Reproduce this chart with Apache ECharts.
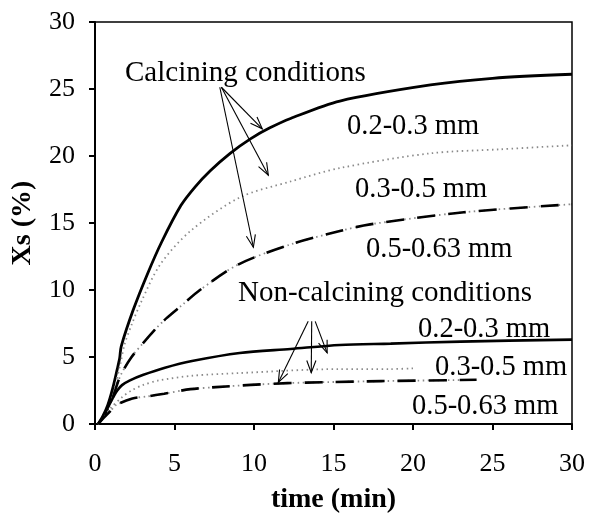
<!DOCTYPE html>
<html><head><meta charset="utf-8">
<script src="https://cdn.jsdelivr.net/npm/echarts@6/dist/echarts.min.js"></script>
<style>html,body{margin:0;padding:0;background:#fff}#c{width:589px;height:519px}</style>
</head><body><div id="c"></div>
<script>
// ---- data ----
var xTicks = [0, 5, 10, 15, 20, 25, 30];
var yTicks = [0, 5, 10, 15, 20, 25, 30];

var cal1T = [0.2, 0.5, 0.8, 1.1, 1.4, 1.55, 1.65, 2.4, 3.3, 4.2, 5.4, 6.3, 7.25, 8.5, 9.8, 11, 12.3, 15.4, 21.1, 25, 30];
var cal1V = [0, 0.6, 1.4, 2.6, 4.1, 4.9, 5.8, 8.5, 11.2, 13.6, 16.3, 17.7, 18.9, 20.2, 21.3, 22.1, 22.8, 24.1, 25.3, 25.8, 26.1];

var cal2T = [0.2, 0.5, 1.0, 1.3, 1.6, 1.85, 2.3, 2.9, 4.1, 6.0, 9.1, 12.3, 15.4, 21.1, 25.5, 30];
var cal2V = [0, 0.5, 1.6, 3.0, 4.5, 5.9, 7.4, 9.1, 11.9, 14.4, 16.9, 18.1, 19.1, 20.2, 20.5, 20.8];

var cal3T = [0.2, 0.5, 1.0, 1.6, 2.3, 3.0, 3.9, 4.5, 5.5, 6.6, 9.0, 12.3, 15.4, 17.3, 23.2, 30];
var cal3V = [0, 0.5, 1.6, 3.6, 5.0, 6.0, 7.2, 7.9, 8.9, 10.0, 11.9, 13.4, 14.4, 14.9, 15.8, 16.4];

var nc1T = [0.2, 0.5, 0.8, 1.1, 1.4, 1.7, 2.2, 3.0, 4.4, 6.1, 9.1, 12.3, 15.4, 18.6, 23, 30];
var nc1V = [0, 0.5, 1.2, 1.9, 2.5, 2.9, 3.25, 3.65, 4.2, 4.7, 5.3, 5.6, 5.9, 6.0, 6.15, 6.3];

var nc2T = [0.2, 0.5, 1.0, 1.7, 2.3, 3.0, 4.0, 6.1, 9.1, 15.4, 18.6, 20];
var nc2V = [0, 0.4, 1.2, 2.0, 2.5, 2.9, 3.25, 3.6, 3.8, 4.1, 4.1, 4.15];

var nc3T = [0.2, 0.5, 1.0, 1.3, 2.35, 3.3, 4.35, 6.0, 7.6, 9.8, 12.1, 14.4, 18, 24];
var nc3V = [0, 0.4, 1.0, 1.4, 1.9, 2.06, 2.26, 2.6, 2.75, 2.92, 3.05, 3.12, 3.2, 3.3];

// annotation arrows, in data units: [fromT, fromV, toT, toV]
var calcArrows = [[7.95, 25.13, 10.52, 22.03], [7.95, 25.13, 10.9, 18.57], [7.85, 25.13, 9.96, 13.19]];
var nonCalcArrows = [[13.41, 7.66, 11.53, 3.10], [13.63, 7.66, 13.6, 3.83], [13.85, 7.66, 14.6, 5.31]];

var labels = [
  {text: 'Calcining conditions', x: 125, y: 73, size: 29},
  {text: '0.2-0.3 mm', x: 347, y: 127, size: 28.5},
  {text: '0.3-0.5 mm', x: 355, y: 190, size: 28.5},
  {text: '0.5-0.63 mm', x: 366, y: 250, size: 28.5},
  {text: 'Non-calcining conditions', x: 238, y: 293, size: 29},
  {text: '0.2-0.3 mm', x: 418, y: 330, size: 28.5},
  {text: '0.3-0.5 mm', x: 435, y: 368, size: 28.5},
  {text: '0.5-0.63 mm', x: 412, y: 407, size: 28.5}
];

// ---- chart ----
var FONT = '"Liberation Serif", "Times New Roman", serif';
function zip(t, v) { return t.map(function (x, i) { return [x, v[i]]; }); }

function lineSeries(t, v, style, z) {
  return {
    type: 'line', data: zip(t, v), showSymbol: false, symbol: 'none',
    smooth: 0.3, lineStyle: style, z: z || 2, silent: true, animation: false
  };
}

function arrowSeries(arr) {
  return {
    type: 'custom', data: arr, silent: true, animation: false, z: 5,
    renderItem: function (params, api) {
      var p0 = api.coord([api.value(0), api.value(1)]);
      var p1 = api.coord([api.value(2), api.value(3)]);
      var ang = Math.atan2(p1[1] - p0[1], p1[0] - p0[0]);
      var L = 13, a = 0.36;
      var h1 = [p1[0] - L * Math.cos(ang - a), p1[1] - L * Math.sin(ang - a)];
      var h2 = [p1[0] - L * Math.cos(ang + a), p1[1] - L * Math.sin(ang + a)];
      var st = {stroke: '#000', lineWidth: 1.1, fill: null};
      return {
        type: 'group', children: [
          {type: 'line', shape: {x1: p0[0], y1: p0[1], x2: p1[0], y2: p1[1]}, style: st},
          {type: 'polyline', shape: {points: [h1, p1, h2]}, style: st}
        ]
      };
    }
  };
}

var chart = echarts.init(document.getElementById('c'), null, {renderer: 'canvas'});
var grayDot = {color: '#8a8a8a', width: 1.8, type: [1.5, 3.5]};
var option = {
  backgroundColor: '#fff',
  animation: false,
  grid: {left: 95, right: 17, top: 22, bottom: 90, show: true, borderColor: '#000', borderWidth: 1.5, backgroundColor: 'transparent'},
  xAxis: {
    type: 'value', min: xTicks[0], max: xTicks[xTicks.length - 1], interval: 5,
    name: 'time (min)', nameLocation: 'middle', nameGap: 62,
    nameTextStyle: {fontFamily: FONT, fontSize: 28, fontWeight: 'bold', color: '#000'},
    axisLine: {lineStyle: {color: '#000', width: 2}},
    axisTick: {show: true, inside: false, length: 6, lineStyle: {color: '#000', width: 2}},
    axisLabel: {fontFamily: FONT, fontSize: 26, color: '#000', margin: 27},
    splitLine: {show: false}
  },
  yAxis: {
    type: 'value', min: yTicks[0], max: yTicks[yTicks.length - 1], interval: 5,
    name: 'Xs (%)', nameLocation: 'middle', nameGap: 58, nameRotate: 90,
    nameTextStyle: {fontFamily: FONT, fontSize: 28, fontWeight: 'bold', color: '#000'},
    axisLine: {lineStyle: {color: '#000', width: 2}},
    axisTick: {show: true, inside: false, length: 6, lineStyle: {color: '#000', width: 2}},
    axisLabel: {fontFamily: FONT, fontSize: 26, color: '#000', margin: 20},
    splitLine: {show: false}
  },
  series: [
    lineSeries(cal1T, cal1V, {color: '#000', width: 2.8, type: 'solid'}),
    lineSeries(cal2T, cal2V, grayDot),
    lineSeries(cal3T, cal3V, grayDot, 1),
    lineSeries(cal3T, cal3V, {color: '#000', width: 2.6, type: [18, 13]}),
    lineSeries(nc1T, nc1V, {color: '#000', width: 2.6, type: 'solid'}),
    lineSeries(nc2T, nc2V, grayDot),
    lineSeries(nc3T, nc3V, grayDot, 1),
    lineSeries(nc3T, nc3V, {color: '#000', width: 2.6, type: [18, 13]}),
    arrowSeries(calcArrows),
    arrowSeries(nonCalcArrows)
  ],
  graphic: labels.map(function (l) {
    return {
      type: 'text', x: l.x, y: l.y, z: 10, silent: true,
      style: {text: l.text, font: l.size + 'px ' + FONT, fill: '#000', textAlign: 'left', textVerticalAlign: 'middle'}
    };
  })
};
chart.setOption(option);
</script>
</body></html>
